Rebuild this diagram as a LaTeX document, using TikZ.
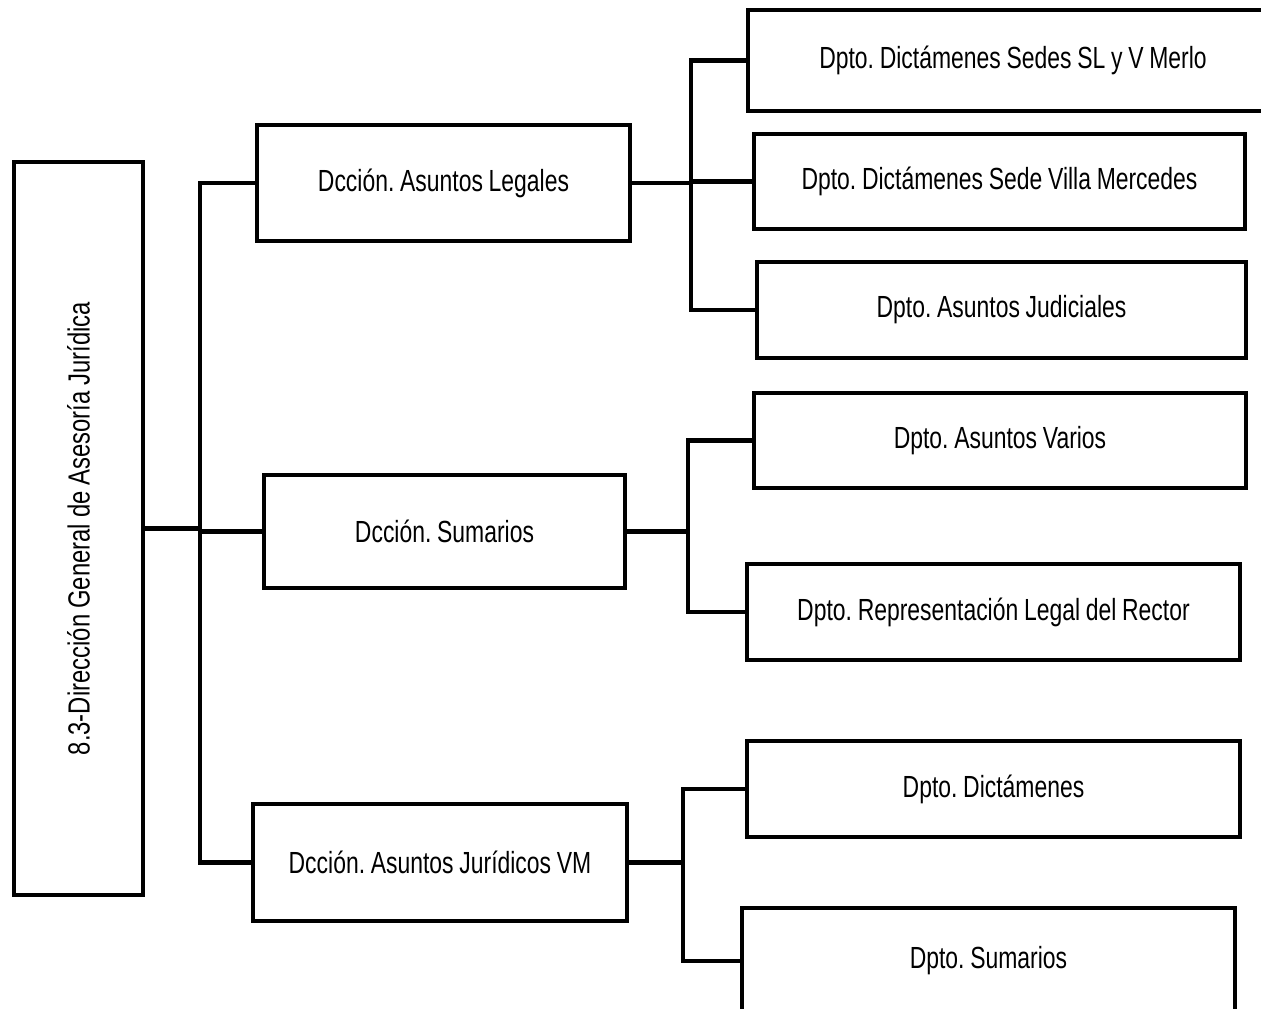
\documentclass[tikz,border=0pt]{standalone}
\usepackage{fontspec}
\setmainfont{Liberation Sans}[FakeStretch=0.75,WordSpace=0.9]
\newfontfamily\rotfont{Liberation Sans}[FakeStretch=0.78,WordSpace=0.9]
\usepackage{tikz}
\usetikzlibrary{positioning}
\frenchspacing

\begin{document}
\begin{tikzpicture}[x=0.02cm,y=-0.02cm,line width=2.3pt]
  \tikzstyle{every node}=[font=\fontsize{17.4}{20}\selectfont]
  \tikzstyle{box}=[draw,rectangle,inner sep=0pt,align=center]
  \useasboundingbox (0,0) rectangle (1261,1008);

  \node[box,minimum width=129*0.02cm,minimum height=733*0.02cm] (dir) at (78.5,528.5) {};
  \node[rotate=90,font=\rotfont\fontsize{17.4}{20}\selectfont] at (dir.center) {8.3-Dirección General de Asesoría Jurídica};

  \node[box,minimum width=373*0.02cm,minimum height=116*0.02cm] (dcc_1) at (443.5,183)   {Dcción. Asuntos Legales};
  \node[box,minimum width=361*0.02cm,minimum height=113*0.02cm] (dcc_2) at (444.5,531.5) {Dcción. Sumarios};
  \node[box,minimum width=374*0.02cm,minimum height=117*0.02cm] (dcc_3) at (440,862.5)   {Dcción. Asuntos Jurídicos VM};

  \node[box,minimum width=530*0.02cm,minimum height=101*0.02cm] (dpt_1) at (1013,60.5)   {Dpto. Dictámenes Sedes SL y V Merlo};
  \node[box,minimum width=491*0.02cm,minimum height=95*0.02cm]  (dpt_2) at (999.5,181.5) {Dpto. Dictámenes Sede Villa Mercedes};
  \node[box,minimum width=489*0.02cm,minimum height=96*0.02cm]  (dpt_3) at (1001.5,310)  {Dpto. Asuntos Judiciales};
  \node[box,minimum width=492*0.02cm,minimum height=95*0.02cm]  (dpt_4) at (1000,440.5)  {Dpto. Asuntos Varios};
  \node[box,minimum width=493*0.02cm,minimum height=96*0.02cm]  (dpt_5) at (993.5,612)   {Dpto. Representación Legal del Rector};
  \node[box,minimum width=493*0.02cm,minimum height=96*0.02cm]  (dpt_6) at (993.5,789)   {Dpto. Dictámenes};
  \node[box,minimum width=493*0.02cm,minimum height=106*0.02cm] (dpt_7) at (988.5,961)   {Dpto. Sumarios};

  % trunk
  \coordinate (t_0) at (200,528.5);
  \draw (dir) -- (t_0);
  \draw (dcc_1.west) -| (t_0) |- (dcc_3.west);
  \draw (t_0 |- dcc_2.west) -- (dcc_2.west);

  % branches
  \coordinate (t_1) at (691,183);
  \draw (dcc_1.east) -- (t_1);
  \draw (dpt_1.west) -| (t_1) |- (dpt_3.west);
  \draw (t_1 |- dpt_2.west) -- (dpt_2.west);

  \coordinate (t_2) at (688,531.5);
  \draw (dcc_2.east) -- (t_2);
  \draw (dpt_4.west) -| (t_2) |- (dpt_5.west);

  \coordinate (t_3) at (683,862.5);
  \draw (dcc_3.east) -- (t_3);
  \draw (dpt_6.west) -| (t_3) |- (dpt_7.west);
\end{tikzpicture}
\end{document}
